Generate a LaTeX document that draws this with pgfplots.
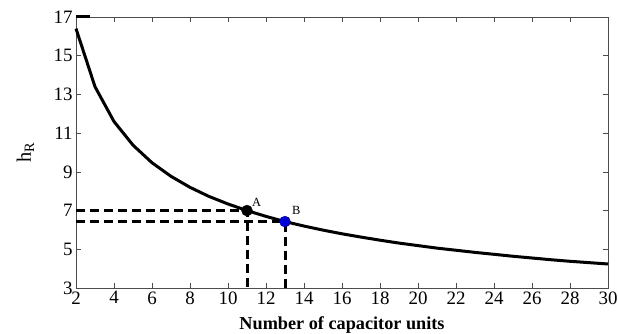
\documentclass[border=0pt]{standalone}
\usepackage{pgfplots}
\pgfplotsset{compat=1.18}
\usepackage{fontspec}
\setmainfont{Liberation Serif}
\begin{document}
\begin{tikzpicture}
\begin{axis}[
  scale only axis,
  width=532bp, height=271bp,
  xmin=2, xmax=30, ymin=3, ymax=17,
  xtick={2,4,...,30}, ytick={3,5,...,17},
  tick align=inside,
  major tick length=5bp,
  axis line style={line width=0.9pt, black!70},
  tick style={black!70, line width=0.7pt},
  /pgf/number format/assume math mode=true,
  ticklabel style={font=\fontsize{19}{22}\selectfont},
  xlabel={\textbf{Number of capacitor units}},
  ylabel={h$_{\mathrm{R}}$},
  ylabel style={font=\fontsize{20.5}{23}\selectfont, at={(axis description cs:-0.095,0.5)}, anchor=center},
  xlabel style={font=\fontsize{18.3}{21}\selectfont, at={(axis description cs:0.5,-0.137)}, anchor=center},
  clip=false,
]
\addplot[black, line width=3bp] coordinates {
(2,16.4)(3,13.4)(4,11.6)(5,10.38)(6,9.47)(7,8.77)(8,8.20)(9,7.73)(10,7.34)
(11,7.0)(12,6.70)(13,6.43)(14,6.20)(15,5.99)(16,5.80)(17,5.63)(18,5.47)
(19,5.32)(20,5.19)(21,5.06)(22,4.95)(23,4.84)(24,4.74)(25,4.64)(26,4.55)
(27,4.46)(28,4.38)(29,4.31)(30,4.24)};
\addplot[black, line width=3bp, dash pattern=on 9bp off 5bp] coordinates {(2,7.0)(11,7.0)(11,3)};
\addplot[black, line width=3bp, dash pattern=on 9bp off 5bp] coordinates {(2,6.43)(13,6.43)(13,3)};
\addplot[black, line width=3bp] coordinates {(2,17)(2.73,17)};
\addplot[only marks, mark=*, mark size=5.5bp, black, fill=black] coordinates {(11,7.0)};
\addplot[only marks, mark=*, mark size=5.5bp, draw=blue!50!black, fill=blue!85!black] coordinates {(13,6.43)};
\node[font=\fontsize{12.5}{14}\selectfont] at (axis cs:11.5,7.44) {A};
\node[font=\fontsize{12.5}{14}\selectfont] at (axis cs:13.6,7.03) {B};
\end{axis}
\pgfresetboundingbox
\path[use as bounding box] (-76bp,-46bp) rectangle (542bp,288bp);
\end{tikzpicture}
\end{document}
